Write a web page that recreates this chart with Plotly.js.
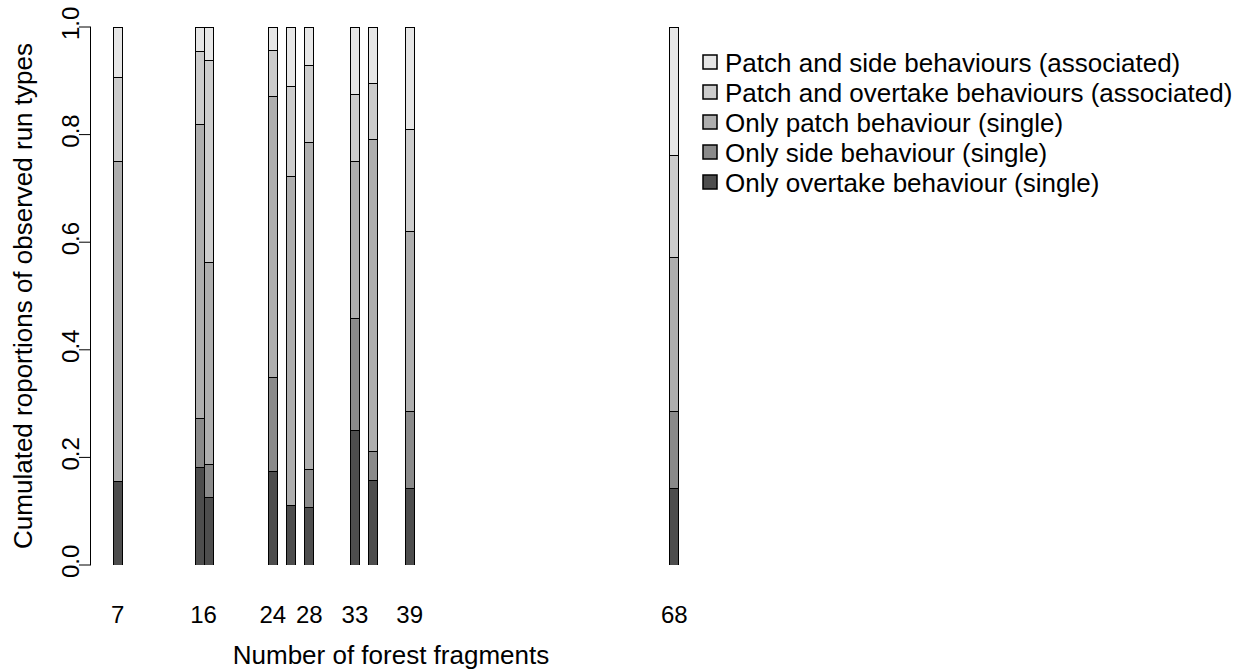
<!DOCTYPE html>
<html>
<head>
<meta charset="utf-8">
<script src="https://cdn.plot.ly/plotly-3.0.1.min.js"></script>
<style>html,body{margin:0;padding:0;background:#fff;}#chart{width:1245px;height:672px;}</style>
</head>
<body>
<div id="chart"></div>
<script>
// Number of forest fragments (bar positions)
const fragments = [7, 16, 17, 24, 26, 28, 33, 35, 39, 68];
// Proportions of observed run types per landscape
const onlyOvertake   = [0.156, 0.182, 0.125, 0.174, 0.111, 0.107, 0.250, 0.158, 0.143, 0.143];
const onlySide       = [0.000, 0.091, 0.0625, 0.174, 0.000, 0.071, 0.208, 0.053, 0.143, 0.143];
const onlyPatch      = [0.594, 0.545, 0.375, 0.522, 0.611, 0.607, 0.292, 0.579, 0.333, 0.286];
const patchOvertake  = [0.156, 0.136, 0.375, 0.087, 0.167, 0.143, 0.125, 0.105, 0.190, 0.190];
const patchSide      = [0.094, 0.045, 0.0625, 0.043, 0.111, 0.071, 0.125, 0.105, 0.190, 0.238];

const seriesNames = [
  'Only overtake behaviour (single)',
  'Only side behaviour (single)',
  'Only patch behaviour (single)',
  'Patch and overtake behaviours (associated)',
  'Patch and side behaviours (associated)'
];
const seriesColors = ['#4D4D4D', '#8A8A8A', '#AEAEAE', '#CCCCCC', '#E6E6E6'];
const seriesValues = [onlyOvertake, onlySide, onlyPatch, patchOvertake, patchSide];

// x tick labels
const tickPositions = [7, 16.4, 24, 28, 33, 39, 68];
const tickLabels = ['7', '16', '24', '28', '33', '39', '68'];
const yTicks = [0, 0.2, 0.4, 0.6, 0.8, 1.0];
const yTickLabels = ['0.0', '0.2', '0.4', '0.6', '0.8', '1.0'];

const traces = seriesValues.map((vals, i) => ({
  type: 'bar',
  x: fragments,
  y: vals,
  name: seriesNames[i],
  width: 1,
  showlegend: false,
  marker: {color: seriesColors[i], line: {color: '#000', width: 1}},
  hoverinfo: 'x+y+name'
}));

const font = {family: 'Liberation Sans, Arial, sans-serif', color: '#000'};

// Page geometry (pixels)
const W = 1245, H = 672;
const M = {l: 91, r: 554, t: 27, b: 107};
const plotW = W - M.l - M.r, plotH = H - M.t - M.b;
const px2x = X => (X - M.l) / plotW;
const px2y = Y => (H - M.b - Y) / plotH;
const YRANGE = [0, 1];
const y2paper = v => (v - YRANGE[0]) / (YRANGE[1] - YRANGE[0]);

const shapes = [], annotations = [];

// y-axis tick marks (12 px long, outside)
yTicks.forEach(v => {
  shapes.push({
    type: 'line', xref: 'paper', yref: 'paper',
    x0: px2x(M.l - 12), x1: 0, y0: y2paper(v), y1: y2paper(v),
    line: {color: '#000', width: 1}
  });
});

// Custom legend (top entry = lightest series), drawn outside the plot region
const legLeft = 703, legBox = 14, legTextX = 723, legTop = 62, legStep = 30;
for (let k = 0; k < seriesNames.length; k++) {
  const i = seriesNames.length - 1 - k;
  const cy = legTop + k * legStep;
  shapes.push({
    type: 'rect', xref: 'paper', yref: 'paper',
    x0: px2x(legLeft), x1: px2x(legLeft + legBox),
    y0: px2y(cy - legBox / 2), y1: px2y(cy + legBox / 2),
    fillcolor: seriesColors[i], line: {color: '#000', width: 1.5}
  });
  annotations.push({
    xref: 'paper', yref: 'paper', x: px2x(legTextX), y: px2y(cy + 1),
    xanchor: 'left', yanchor: 'middle', showarrow: false,
    text: seriesNames[i], font: Object.assign({size: 26}, font)
  });
}

const layout = {
  width: W, height: H,
  paper_bgcolor: '#fff', plot_bgcolor: '#fff',
  margin: M,
  barmode: 'stack',
  bargap: 0,
  showlegend: false,
  font: Object.assign({size: 24}, font),
  xaxis: {
    range: [4.07, 69.83],
    showgrid: false, zeroline: false, showline: false,
    ticks: '',
    tickmode: 'array', tickvals: tickPositions, ticktext: tickLabels,
    tickfont: Object.assign({size: 24}, font),
    ticklabelstandoff: 33,
    title: {text: 'Number of forest fragments', font: Object.assign({size: 26}, font), standoff: 18}
  },
  yaxis: {
    range: YRANGE,
    showgrid: false, zeroline: false,
    showline: true, linecolor: '#000', linewidth: 1,
    ticks: '',
    tickmode: 'array', tickvals: yTicks, ticktext: yTickLabels,
    tickangle: -90,
    ticklabelstandoff: 1,
    tickfont: Object.assign({size: 24}, font),
    title: {text: 'Cumulated roportions of observed run types', font: Object.assign({size: 26}, font), standoff: 17}
  },
  shapes: shapes,
  annotations: annotations
};

Plotly.newPlot('chart', traces, layout, {displayModeBar: false, staticPlot: true});
</script>
</body>
</html>
